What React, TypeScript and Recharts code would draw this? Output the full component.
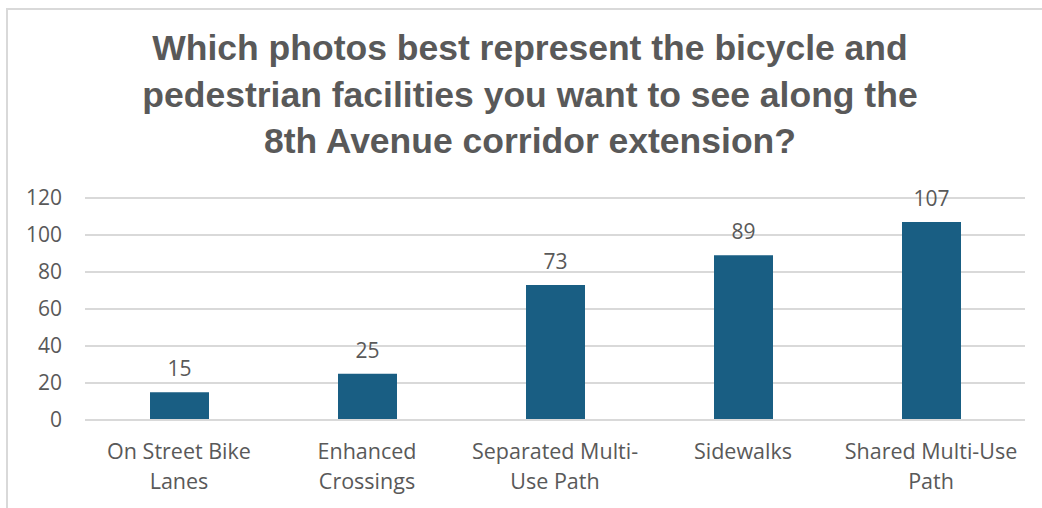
import React from "react";
import { BarChart, Bar, XAxis, YAxis, CartesianGrid, LabelList } from "recharts";

const categories = [
  "On Street Bike Lanes",
  "Enhanced Crossings",
  "Separated Multi-Use Path",
  "Sidewalks",
  "Shared Multi-Use Path",
];
const responses = [15, 25, 73, 89, 107];
// how each category name wraps under its bar
const tickLines = [
  ["On Street Bike", "Lanes"],
  ["Enhanced", "Crossings"],
  ["Separated Multi-", "Use Path"],
  ["Sidewalks"],
  ["Shared Multi-Use", "Path"],
];
const yTicks = [0, 20, 40, 60, 80, 100, 120];
const titleLines = [
  "Which photos best represent the bicycle and",
  "pedestrian facilities you want to see along the",
  "8th Avenue corridor extension?",
];

const data = categories.map((name, i) => ({ name, value: responses[i] }));

const TEXT = "#595959";
const BAR = "#195e83";
const GRID = "#d9d9d9";
const FONT = "Open Sans, sans-serif";

function CategoryTick(props: any) {
  const { x, y, index } = props;
  const lines = tickLines[index] || [];
  return (
    <g transform={`translate(${x},${y})`}>
      <text textAnchor="middle" fill={TEXT} fontSize={21.5} fontFamily={FONT}>
        {lines.map((l, i) => (
          <tspan key={i} x={0} dy={i === 0 ? 31 : 30}>
            {l}
          </tspan>
        ))}
      </text>
    </g>
  );
}

export default function App() {
  return (
    <div
      style={{
        position: "absolute",
        left: 0,
        top: 0,
        width: 1042,
        height: 508,
        background: "#fff",
        overflow: "hidden",
      }}
    >
      {/* chart frame, runs off the right and bottom edges */}
      <div
        style={{
          position: "absolute",
          left: 6,
          top: 8,
          width: 1050,
          height: 520,
          border: "2px solid #d9d9d9",
          boxSizing: "border-box",
        }}
      />
      <div
        style={{
          position: "absolute",
          left: 0,
          top: 25,
          width: 1060,
          textAlign: "center",
          fontFamily: "Liberation Sans, Arial, sans-serif",
          fontWeight: "bold",
          fontSize: 35.5,
          lineHeight: "46.5px",
          color: TEXT,
        }}
      >
        {titleLines.map((t, i) => (
          <div key={i}>{t}</div>
        ))}
      </div>
      <div style={{ position: "absolute", left: 0, top: 0 }}>
        <BarChart
          width={1042}
          height={508}
          data={data}
          margin={{ top: 198, right: 17, bottom: 18, left: 25 }}
        >
          <CartesianGrid vertical={false} stroke={GRID} strokeWidth={2} />
          <XAxis
            dataKey="name"
            height={70}
            axisLine={{ stroke: GRID, strokeWidth: 2 }}
            tickLine={false}
            interval={0}
            tick={<CategoryTick />}
          />
          <YAxis
            width={60}
            domain={[0, 120]}
            ticks={yTicks}
            axisLine={false}
            tickLine={false}
            tickSize={0}
            tickMargin={23}
            tick={{ fill: TEXT, fontSize: 21, fontFamily: FONT }}
          />
          <Bar dataKey="value" fill={BAR} barSize={59} isAnimationActive={false}>
            <LabelList
              dataKey="value"
              position="top"
              offset={16}
              fill={TEXT}
              fontSize={21}
              fontFamily={FONT}
            />
          </Bar>
        </BarChart>
      </div>
    </div>
  );
}
